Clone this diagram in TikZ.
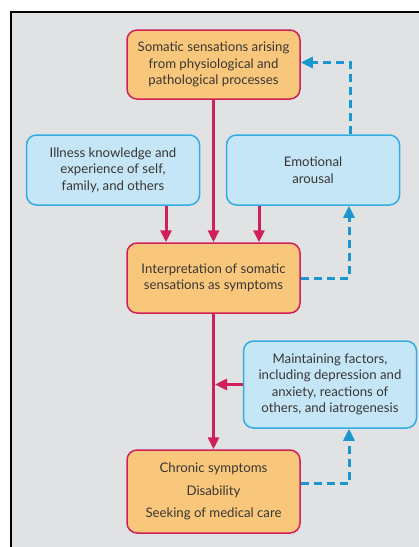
\documentclass[tikz,border=0pt]{standalone}
\usepackage{fontspec}
\setmainfont{Lato}
\usetikzlibrary{arrows.meta}

\definecolor{crimson}{HTML}{D0205A}
\definecolor{boxorange}{HTML}{F8C77C}
\definecolor{boxblue}{HTML}{C4E6F6}
\definecolor{lineblue}{HTML}{35ADE2}
\definecolor{dashblue}{HTML}{1B96CF}
\definecolor{bggray}{HTML}{E1E2E4}
\definecolor{textgray}{HTML}{3A3633}

\begin{document}
\begin{tikzpicture}[x=1pt,y=-1pt,
	orangebox/.style={draw=crimson,fill=boxorange,line width=1.5pt,rounded corners=10pt,
		minimum width=173pt,align=center,text=textgray,font=\fontsize{13.2}{16.5}\selectfont},
	bluebox/.style={draw=lineblue,fill=boxblue,line width=1.5pt,rounded corners=10pt,
		minimum width=173pt,align=center,text=textgray,font=\fontsize{13.2}{16.5}\selectfont},
	solidarrow/.style={draw=crimson,line width=3pt,-{Triangle[length=12pt,width=11pt]}},
	dasharrow/.style={draw=dashblue,line width=3pt,dash pattern=on 8pt off 5pt,
		-{Triangle[length=12pt,width=11pt]}}]
\useasboundingbox (0,0) rectangle (419,547);
% frame
\fill[bggray] (11,12) rectangle (419,547);
\draw[black,line width=2pt] (11,547) -- (11,12) -- (419,12);

% boxes
\node[orangebox,minimum height=69pt] (somatic) at (213.5,64.5)
	{Somatic sensations arising\\from physiological and\\pathological processes};
\node[bluebox,minimum height=70pt] (illness) at (113,170)
	{Illness knowledge and\\experience of self,\\family, and others};
\node[bluebox,minimum height=70pt] (emotion) at (313,170)
	{Emotional\\arousal};
\node[orangebox,minimum height=70pt] (interp) at (213.5,278)
	{Interpretation of somatic\\sensations as symptoms};
\node[bluebox,minimum height=87pt] (maintain) at (330,384.5)
	{Maintaining factors,\\including depression and\\anxiety, reactions of\\others, and iatrogenesis};
\node[orangebox,minimum height=83pt] (chronic) at (213.5,491.5)
	{Chronic symptoms\\[6pt]Disability\\[6pt]Seeking of medical care};

% helper points
\coordinate (illout) at ([xshift=53pt]illness.south);
\coordinate (emoout) at ([xshift=-54pt]emotion.south);
\coordinate (emoin) at ([xshift=36pt]emotion.south);
\coordinate (emotop) at ([xshift=37pt]emotion.north);
\coordinate (mainin) at ([xshift=19pt]maintain.south);

% solid arrows
\draw[solidarrow] (somatic) -- (interp);
\draw[solidarrow] (illout) -- (illout |- interp.north);
\draw[solidarrow] (emoout) -- (emoout |- interp.north);
\draw[solidarrow] (interp) -- (chronic);
\draw[solidarrow] (maintain.west) -- ([xshift=1.5pt]maintain.west -| interp.south);

% dashed feedback
\draw[dasharrow] (interp.east) -| (emoin);
\draw[dasharrow] (emotop) |- ([yshift=2pt]somatic.east);
\draw[dasharrow] ([yshift=8pt]chronic.east) -| (mainin);
\end{tikzpicture}
\end{document}
